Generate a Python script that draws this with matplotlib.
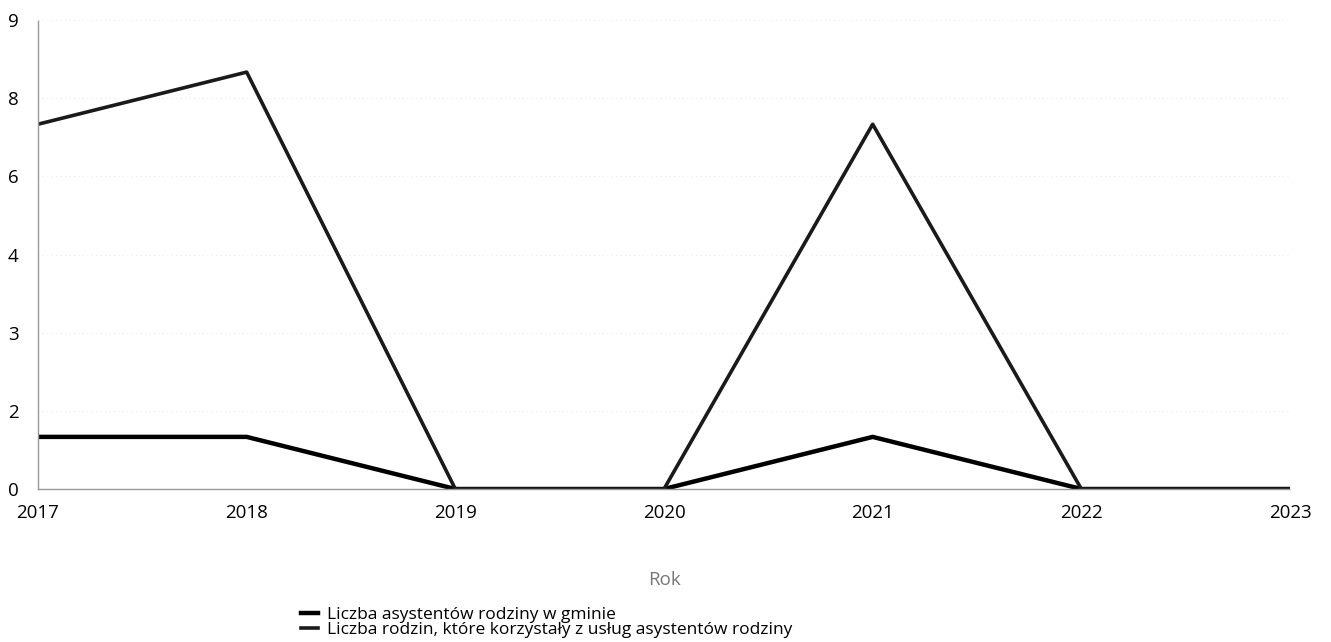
import matplotlib
matplotlib.use("Agg")
import matplotlib.pyplot as plt
import numpy as np

years = [2017, 2018, 2019, 2020, 2021, 2022, 2023]
asystenci = [1, 1, 0, 0, 1, 0, 0]
rodziny = [7, 8, 0, 0, 7, 0, 0]
series_labels = ["Liczba asystentów rodziny w gminie",
                 "Liczba rodzin, które korzystały z usług asystentów rodziny"]
y_ticks = [0, 1.5, 3, 4.5, 6, 7.5, 9]
y_tick_labels = ["0", "2", "3", "4", "6", "8", "9"]
x_label = "Rok"

plt.rcParams['font.family'] = ['Open Sans', 'DejaVu Sans']

fig = plt.figure(figsize=(13.31, 6.42), dpi=100)
ax = fig.add_axes([38/1331, 1-489/642, (1290-38)/1331, (489-20)/642])

l1, = ax.plot(years, asystenci, color="#000000", lw=3.2, label=series_labels[0])
l2, = ax.plot(years, rodziny, color="#1a1a1a", lw=2.6, label=series_labels[1])

ax.set_xlim(2017, 2023)
ax.set_ylim(0, 9)
ax.set_xticks(years)
ax.set_xticklabels([str(y) for y in years], fontsize=13.5)
ax.tick_params(axis='both', length=0)
ax.set_yticks(y_ticks)
ax.set_yticklabels(y_tick_labels, fontsize=13.5)
ax.tick_params(axis='x', pad=11)
ax.tick_params(axis='y', pad=14)

for s in ['top', 'right']:
    ax.spines[s].set_visible(False)
for s in ['left', 'bottom']:
    ax.spines[s].set_color('#999999')
    ax.spines[s].set_linestyle((0, (1, 1)))
    ax.spines[s].set_linewidth(1.0)

ax.yaxis.grid(True, color='#ececec', linestyle=(0, (1, 3)), linewidth=0.8)
ax.set_axisbelow(True)

ax.set_xlabel(x_label, fontsize=13.5, color='#777777', labelpad=35)

fig.legend(handles=[l1, l2], loc='upper left', bbox_to_anchor=(292/1331, 1-598/642),
           frameon=False, fontsize=12.5, handlelength=1.0, handletextpad=0.5,
           labelspacing=-0.05, borderpad=0)

fig.savefig("out.png", dpi=100)
